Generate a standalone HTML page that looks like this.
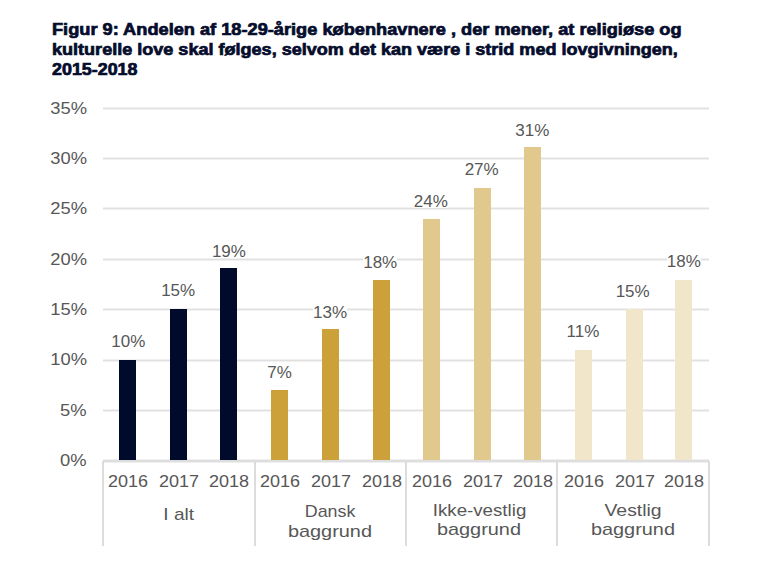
<!DOCTYPE html><html><head><meta charset="utf-8"><style>
html,body{margin:0;padding:0;background:#fff;}
body{width:773px;height:586px;position:relative;overflow:hidden;font-family:"Liberation Sans",sans-serif;}
.t{position:absolute;left:52px;transform-origin:0 0;font-weight:bold;color:#050c2c;font-size:16.6px;-webkit-text-stroke:0.7px #050c2c;white-space:nowrap;line-height:20px;}
.g{position:absolute;height:3px;left:103px;width:606px;background:linear-gradient(#f1f1f1 0,#f1f1f1 1px,#e0e0e0 1px,#e0e0e0 2px,#f1f1f1 2px);}
.yl{position:absolute;right:686px;transform:scaleX(1.08);transform-origin:100% 0;color:#575757;font-size:17px;line-height:20px;white-space:nowrap;}
.b{position:absolute;width:17px;}
.dl{position:absolute;transform:translateX(-50%);background:#fff;padding:0;white-space:nowrap;height:13px;color:#575757;font-size:17px;line-height:14px;}
.cl{position:absolute;width:50px;transform:scaleX(1.06);text-align:center;color:#575757;font-size:17px;line-height:20px;}
.gl{position:absolute;width:150px;text-align:center;color:#575757;font-size:17px;line-height:19.4px;}
.gl span{display:inline-block;} .bg{transform:scaleX(1.17);}
.v{position:absolute;width:2px;background:#dcdcdc;top:461px;height:85px;}
</style></head><body>

<div class="t" style="top:19.5px;transform:scaleX(1.097)">Figur 9: Andelen af 18-29-årige københavnere , der mener, at religiøse og</div>
<div class="t" style="top:39.8px;transform:scaleX(1.0875)">kulturelle love skal følges, selvom det kan være i strid med lovgivningen,</div>
<div class="t" style="top:60.1px;transform:scaleX(1.077)">2015-2018</div>
<div class="g" style="top:459px;height:4px;background:linear-gradient(#efefef 0,#efefef 1px,#dedede 1px,#dedede 3px,#efefef 3px)"></div>
<div class="yl" style="top:451.1px">0%</div>
<div class="g" style="top:409px"></div>
<div class="yl" style="top:400.8px">5%</div>
<div class="g" style="top:359px"></div>
<div class="yl" style="top:350.4px">10%</div>
<div class="g" style="top:308px"></div>
<div class="yl" style="top:300.1px">15%</div>
<div class="g" style="top:258px"></div>
<div class="yl" style="top:249.7px">20%</div>
<div class="g" style="top:207px"></div>
<div class="yl" style="top:199.4px">25%</div>
<div class="g" style="top:157px"></div>
<div class="yl" style="top:149.1px">30%</div>
<div class="g" style="top:107px"></div>
<div class="yl" style="top:98.7px">35%</div>
<div class="v" style="left:102px"></div>
<div class="v" style="left:254px"></div>
<div class="v" style="left:405px"></div>
<div class="v" style="left:556px"></div>
<div class="v" style="left:708px"></div>
<div class="b" style="left:119px;top:360px;height:100px;background:#000b2b"></div>
<div class="dl" style="left:128.25px;top:334.9px">10%</div>
<div class="cl" style="left:102.5px;top:472px">2016</div>
<div class="b" style="left:170px;top:309px;height:151px;background:#000b2b"></div>
<div class="dl" style="left:178.15px;top:284.2px">15%</div>
<div class="cl" style="left:153.5px;top:472px">2017</div>
<div class="b" style="left:220px;top:268px;height:192px;background:#000b2b"></div>
<div class="dl" style="left:228.90px;top:244.6px">19%</div>
<div class="cl" style="left:203.5px;top:472px">2018</div>
<div class="gl" style="left:104.1px;top:505px"><span style="transform:scaleX(1.12)">I alt</span></div>
<div class="b" style="left:271px;top:390px;height:70px;background:#cca139"></div>
<div class="dl" style="left:279.50px;top:365.9px">7%</div>
<div class="cl" style="left:254.5px;top:472px">2016</div>
<div class="b" style="left:322px;top:329px;height:131px;background:#cca139"></div>
<div class="dl" style="left:330.00px;top:305.6px">13%</div>
<div class="cl" style="left:305.5px;top:472px">2017</div>
<div class="b" style="left:373px;top:280px;height:180px;background:#cca139"></div>
<div class="dl" style="left:380.20px;top:255.6px">18%</div>
<div class="cl" style="left:356.5px;top:472px">2018</div>
<div class="gl" style="left:255.4px;top:502.2px"><span style="transform:scaleX(1.05)">Dansk</span><br><span class="bg">baggrund</span></div>
<div class="b" style="left:423px;top:219px;height:241px;background:#e1c98d"></div>
<div class="dl" style="left:430.85px;top:194.5px">24%</div>
<div class="cl" style="left:406.5px;top:472px">2016</div>
<div class="b" style="left:474px;top:188px;height:272px;background:#e1c98d"></div>
<div class="dl" style="left:481.65px;top:162.9px">27%</div>
<div class="cl" style="left:457.5px;top:472px">2017</div>
<div class="b" style="left:524px;top:147px;height:313px;background:#e1c98d"></div>
<div class="dl" style="left:532.30px;top:123.8px">31%</div>
<div class="cl" style="left:507.5px;top:472px">2018</div>
<div class="gl" style="left:404.4px;top:501px"><span style="transform:scaleX(1.10)">Ikke-vestlig</span><br><span class="bg">baggrund</span></div>
<div class="b" style="left:575px;top:350px;height:110px;background:#f1e6c9"></div>
<div class="dl" style="left:583.00px;top:324.5px">11%</div>
<div class="cl" style="left:558.5px;top:472px">2016</div>
<div class="b" style="left:626px;top:309px;height:151px;background:#f1e6c9"></div>
<div class="dl" style="left:632.65px;top:284.5px">15%</div>
<div class="cl" style="left:609.5px;top:472px">2017</div>
<div class="b" style="left:675px;top:280px;height:180px;background:#f1e6c9"></div>
<div class="dl" style="left:683.80px;top:254.5px">18%</div>
<div class="cl" style="left:658.5px;top:472px">2018</div>
<div class="gl" style="left:557.8px;top:501px"><span style="transform:scaleX(1.14)">Vestlig</span><br><span class="bg">baggrund</span></div>
</body></html>
